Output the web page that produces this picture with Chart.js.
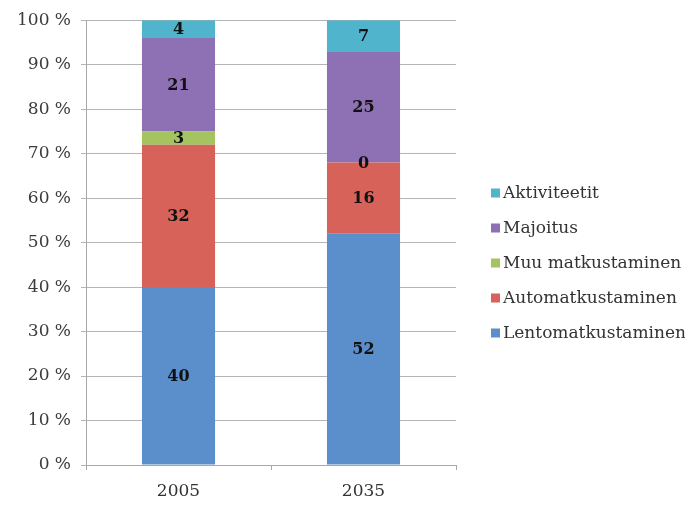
<!DOCTYPE html>
<html>
<head>
<meta charset="utf-8">
<script src="https://cdn.jsdelivr.net/npm/chart.js@4"></script>
<style>
html,body{margin:0;padding:0;background:#fff;}
#wrap{width:685px;height:507px;position:relative;}
</style>
</head>
<body>
<div id="wrap"><canvas id="c" width="685" height="507"></canvas></div>
<script>
const categories = ['2005', '2035'];
const seriesNames = ['Lentomatkustaminen', 'Automatkustaminen', 'Muu matkustaminen', 'Majoitus', 'Aktiviteetit'];
const lentomatkustaminen = [40, 52];
const automatkustaminen = [32, 16];
const muuMatkustaminen = [3, 0];
const majoitus = [21, 25];
const aktiviteetit = [4, 7];
const seriesColors = ['#5b8fcb', '#d6625a', '#a3c45f', '#8e70b4', '#4fb4cc'];
const yTickValues = [0, 10, 20, 30, 40, 50, 60, 70, 80, 90, 100];

const seriesValues = [lentomatkustaminen, automatkustaminen, muuMatkustaminen, majoitus, aktiviteetit];
const FONT = '"DejaVu Serif", "Liberation Serif", serif';

const dataLabels = {
  id: 'dataLabels',
  afterDatasetsDraw(chart) {
    const ctx = chart.ctx;
    ctx.save();
    ctx.font = 'bold 16px ' + FONT;
    ctx.fillStyle = '#111';
    ctx.textAlign = 'center';
    ctx.textBaseline = 'middle';
    chart.data.datasets.forEach((ds, i) => {
      const meta = chart.getDatasetMeta(i);
      meta.data.forEach((el, j) => {
        const y = (el.y + el.base) / 2;
        ctx.fillText(String(ds.data[j]), el.x, y + 1);
      });
    });
    ctx.restore();
  }
};

const customLegend = {
  id: 'customLegend',
  afterDraw(chart) {
    const ctx = chart.ctx;
    ctx.save();
    ctx.font = '17px ' + FONT;
    ctx.textBaseline = 'middle';
    ctx.textAlign = 'left';
    const x0 = 491, y0 = 194, step = 35, box = 9;
    const n = chart.data.datasets.length;
    for (let k = 0; k < n; k++) {
      const i = n - 1 - k;
      const ds = chart.data.datasets[i];
      const y = y0 + k * step;
      ctx.fillStyle = ds.backgroundColor;
      ctx.fillRect(x0, y - box / 2 - 1, box, box);
      ctx.fillStyle = '#333';
      ctx.fillText(ds.label, x0 + 12, y);
    }
    ctx.restore();
  }
};

new Chart(document.getElementById('c'), {
  type: 'bar',
  data: {
    labels: categories,
    datasets: seriesNames.map((name, i) => ({
      label: name,
      data: seriesValues[i],
      backgroundColor: seriesColors[i],
      borderWidth: 0,
      barPercentage: 0.395,
      categoryPercentage: 1.0
    }))
  },
  options: {
    responsive: false,
    animation: false,
    devicePixelRatio: 1,
    layout: { padding: { top: 20, right: 229, left: 0, bottom: 0 } },
    plugins: {
      legend: { display: false },
      tooltip: { enabled: false },
      title: { display: false }
    },
    scales: {
      x: {
        stacked: true,
        grid: {
          offset: true,
          drawOnChartArea: false,
          drawTicks: true,
          tickLength: 5,
          color: '#a8a8a8'
        },
        border: { color: '#a8a8a8', width: 1 },
        ticks: {
          color: '#333',
          font: { family: FONT, size: 17 },
          padding: 11
        },
        afterFit(s) { s.height = 42; }
      },
      y: {
        stacked: true,
        min: 0,
        max: 100,
        afterBuildTicks(s) { s.ticks = yTickValues.map(v => ({ value: v })); },
        grid: {
          color: '#b4b4b4',
          tickLength: 5,
          lineWidth: 1
        },
        border: { color: '#a8a8a8', width: 1 },
        ticks: {
          color: '#3c3c3c',
          font: { family: FONT, size: 17 },
          padding: 10,
          callback: v => v + ' %'
        },
        afterFit(s) { s.width = 86; }
      }
    }
  },
  plugins: [dataLabels, customLegend]
});
</script>
</body>
</html>
